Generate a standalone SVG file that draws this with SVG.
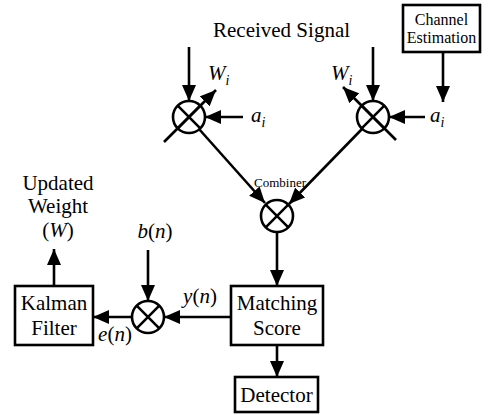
<svg xmlns="http://www.w3.org/2000/svg" width="488" height="415" viewBox="0 0 488 415">
  <style>
    .txt { font-family: "Liberation Serif", "Times New Roman", serif; font-size: 21px; fill: #000; }
    .small { font-size: 16px; }
    .tiny { font-size: 13px; }
    .it { font-style: italic; }
    .sub { font-size: 14px; font-style: italic; }
    .box { fill: #fff; stroke: #000; stroke-width: 2.6; }
    .ring { fill: none; stroke: #000; stroke-width: 2.6; }
    .wire { fill: none; stroke: #000; stroke-width: 2.6; }
    .arr { fill: none; stroke: #000; stroke-width: 2.6; marker-end: url(#head); }
  </style>
  <defs>
    <marker id="head" markerWidth="16" markerHeight="14" refX="16" refY="7" orient="auto" markerUnits="userSpaceOnUse">
      <path d="M0,0 L16,7 L0,14 z" fill="#000"/>
    </marker>
    <!-- multiplier symbol: circle with an X -->
    <g id="mult">
      <circle r="16" class="ring"/>
      <path d="M-11.3,-11.3 L11.3,11.3 M-11.3,11.3 L11.3,-11.3" class="wire"/>
    </g>
  </defs>

  <!-- title text -->
  <text class="txt" x="213" y="37">Received Signal</text>

  <g id="channel-estimation">
    <rect class="box" x="403" y="5" width="77" height="47"/>
    <text class="txt small" x="441.5" y="25" text-anchor="middle">Channel</text>
    <text class="txt small" x="441.5" y="43" text-anchor="middle">Estimation</text>
  </g>

  <g id="mult-left">
    <use href="#mult" x="189" y="117"/>
    <text class="txt it" x="208" y="80">W<tspan class="sub" dy="5">i</tspan></text>
    <text class="txt it" x="251" y="122">a<tspan class="sub" dy="5">i</tspan></text>
  </g>

  <g id="mult-right">
    <use href="#mult" x="373" y="117"/>
    <text class="txt it" x="331" y="80">W<tspan class="sub" dy="5">i</tspan></text>
    <text class="txt it" x="430" y="122">a<tspan class="sub" dy="5">i</tspan></text>
  </g>

  <g id="combiner">
    <use href="#mult" x="277" y="216"/>
    <text class="txt tiny" x="280" y="187" text-anchor="middle">Combiner</text>
  </g>

  <g id="matching-score">
    <rect class="box" x="231" y="286" width="92" height="59"/>
    <text class="txt" x="277" y="310" text-anchor="middle">Matching</text>
    <text class="txt" x="277" y="335" text-anchor="middle">Score</text>
  </g>

  <g id="detector">
    <rect class="box" x="235" y="377" width="83" height="35"/>
    <text class="txt" x="276.5" y="402" text-anchor="middle">Detector</text>
  </g>

  <g id="error-mult">
    <use href="#mult" x="148" y="317"/>
    <text class="txt it" x="155" y="238" text-anchor="middle">b<tspan font-style="normal">(</tspan>n<tspan font-style="normal">)</tspan></text>
    <text class="txt it" x="200" y="303" text-anchor="middle">y<tspan font-style="normal">(</tspan>n<tspan font-style="normal">)</tspan></text>
    <text class="txt it" x="115" y="341" text-anchor="middle">e<tspan font-style="normal">(</tspan>n<tspan font-style="normal">)</tspan></text>
  </g>

  <g id="kalman-filter">
    <rect class="box" x="15" y="286" width="78" height="59"/>
    <text class="txt" x="54" y="310" text-anchor="middle">Kalman</text>
    <text class="txt" x="54" y="335" text-anchor="middle">Filter</text>
  </g>

  <g id="updated-weight">
    <text class="txt" x="58" y="190" text-anchor="middle">Updated</text>
    <text class="txt" x="58" y="213" text-anchor="middle">Weight</text>
    <text class="txt" x="58" y="237" text-anchor="middle">(<tspan font-style="italic">W</tspan>)</text>
  </g>

  <g id="connectors">
    <!-- received signal into both multipliers -->
    <line class="arr" x1="189" y1="47" x2="189" y2="101"/>
    <line class="arr" x1="373" y1="47" x2="373" y2="101"/>
    <!-- a_i inputs -->
    <line class="arr" x1="243" y1="117" x2="205" y2="117"/>
    <line class="arr" x1="425" y1="117" x2="389" y2="117"/>
    <!-- channel estimation output -->
    <line class="arr" x1="443" y1="52" x2="443" y2="102"/>
    <!-- adjustable weights through the multipliers -->
    <line class="arr" x1="164" y1="142" x2="216" y2="90"/>
    <line class="arr" x1="396" y1="140" x2="343" y2="87"/>
    <!-- multipliers to combiner -->
    <line class="arr" x1="199" y1="129" x2="265" y2="203"/>
    <line class="arr" x1="362" y1="129" x2="289" y2="204"/>
    <!-- combiner to matching score -->
    <line class="arr" x1="277" y1="232" x2="277" y2="286"/>
    <!-- matching score to detector -->
    <line class="arr" x1="277" y1="345" x2="277" y2="377"/>
    <!-- y(n) into error multiplier -->
    <line class="arr" x1="231" y1="317" x2="164" y2="317"/>
    <!-- b(n) into error multiplier -->
    <line class="arr" x1="148" y1="250" x2="148" y2="301"/>
    <!-- e(n) into Kalman filter -->
    <line class="arr" x1="132" y1="317" x2="93" y2="317"/>
    <!-- updated weight out -->
    <line class="arr" x1="54" y1="286" x2="54" y2="249"/>
  </g>
</svg>
